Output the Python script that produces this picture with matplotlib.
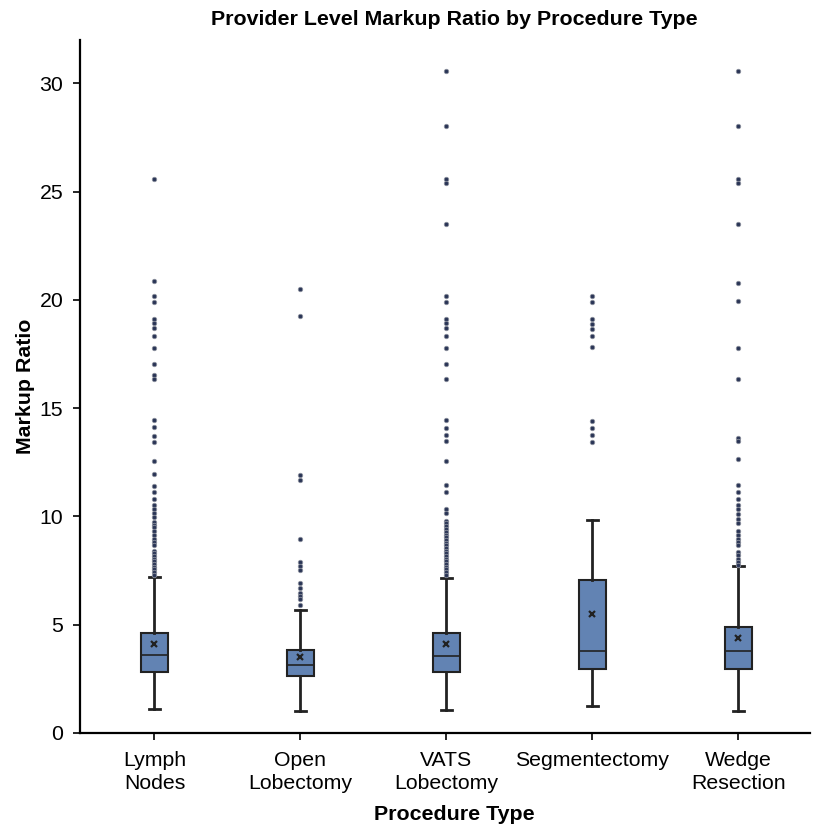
import numpy as np
import matplotlib
matplotlib.use('Agg')
import matplotlib.pyplot as plt

plt.rcParams['font.family'] = ['Liberation Sans', 'DejaVu Sans']

categories = ['Lymph\nNodes', 'Open\nLobectomy', 'VATS\nLobectomy', 'Segmentectomy', 'Wedge\nResection']

# box stats
q1 = [2.83, 2.65, 2.83, 2.97, 2.97]
med = [3.60, 3.15, 3.55, 3.77, 3.80]
q3 = [4.60, 3.85, 4.60, 7.08, 4.89]
whislo = [1.09, 1.03, 1.08, 1.23, 1.02]
whishi = [7.19, 5.69, 7.14, 9.82, 7.71]
means = [4.09, 3.51, 4.12, 5.49, 4.37]

# outliers
fliers_lymph = [25.60, 20.86, 20.16, 19.88, 19.11, 18.91, 18.71, 18.34, 17.80, 17.02,
                16.52, 16.35, 14.43, 14.11, 13.72, 13.44, 12.54, 11.97, 11.41, 11.12,
                10.81, 10.54, 10.35, 10.14, 9.98, 9.74, 9.62, 9.49, 9.31, 9.12, 8.97,
                8.82, 8.66, 8.41, 8.29, 8.17, 8.04, 7.92, 7.80, 7.68, 7.55, 7.43, 7.31]
fliers_open = [20.49, 19.26, 11.89, 11.66, 8.95, 7.91, 7.71, 7.51, 6.94, 6.68,
               6.48, 6.34, 6.17, 5.92]
fliers_vats = [30.57, 28.02, 25.58, 25.38, 23.51, 20.17, 19.88, 19.12, 18.92, 18.68,
               18.34, 17.80, 17.06, 16.35, 14.43, 14.09, 13.75, 13.46, 12.54, 11.43,
               11.12, 10.35, 10.17, 9.80, 9.68, 9.55, 9.40, 9.28, 9.15, 9.03, 8.91,
               8.78, 8.66, 8.54, 8.41, 8.29, 8.17, 8.04, 7.92, 7.80, 7.68, 7.55, 7.43, 7.31]
fliers_segm = [20.18, 19.88, 19.12, 18.89, 18.66, 18.34, 17.82, 14.41, 14.09, 13.75, 13.44]
fliers_wedge = [30.57, 28.05, 25.58, 25.38, 23.51, 20.78, 19.95, 17.80, 16.35, 13.63,
                13.46, 12.63, 11.43, 11.12, 10.81, 10.54, 10.32, 10.11, 9.89, 9.68,
                9.34, 9.15, 8.97, 8.82, 8.66, 8.35, 8.20, 8.04, 7.89, 7.77]
fliers = [fliers_lymph, fliers_open, fliers_vats, fliers_segm, fliers_wedge]

stats = []
for i in range(len(categories)):
    stats.append(dict(q1=q1[i], med=med[i], q3=q3[i], whislo=whislo[i], whishi=whishi[i],
                      mean=means[i], fliers=np.array(fliers[i])))

fig = plt.figure(figsize=(8.19, 8.30), dpi=100)
ax = fig.add_axes([0.0977, 0.1169, 0.8913, 0.8349])

box_col = '#6283b3'
edge = '#222222'
ax.bxp(stats, positions=range(1, 6), widths=0.19, showmeans=True, patch_artist=True,
       capwidths=0.08,
       boxprops=dict(facecolor=box_col, edgecolor=edge, linewidth=1.5),
       medianprops=dict(color=edge, linewidth=1.2),
       whiskerprops=dict(color=edge, linewidth=2),
       capprops=dict(color=edge, linewidth=2),
       meanprops=dict(marker='x', markeredgecolor=edge, markersize=4.5, markeredgewidth=1.6),
       flierprops=dict(marker='o', markerfacecolor='#2a3556', markeredgecolor='#8a8f9c',
                       markersize=3.2, markeredgewidth=0.6))

ax.set_xlim(0.49, 5.49)
ax.set_ylim(0, 32)
ax.set_yticks([0, 5, 10, 15, 20, 25, 30])
ax.set_xticks(range(1, 6))
ax.set_xticklabels(categories, linespacing=1.25)
ax.tick_params(axis='both', labelsize=15.3, direction='out', width=1.2, length=5)
ax.tick_params(axis='x', pad=8)
ax.tick_params(axis='y', pad=7)
ax.spines['top'].set_visible(False)
ax.spines['right'].set_visible(False)
ax.spines['left'].set_linewidth(1.6)
ax.spines['bottom'].set_linewidth(1.6)

ax.set_title('Provider Level Markup Ratio by Procedure Type', fontsize=15.4, fontweight='bold',
             pad=11, x=0.513)
ax.set_xlabel('Procedure Type', fontsize=15.4, fontweight='bold', labelpad=9)
ax.xaxis.label.set_x(0.513)
ax.set_ylabel('Markup Ratio', fontsize=15.4, fontweight='bold', labelpad=3)

fig.savefig('out.png', dpi=100)
